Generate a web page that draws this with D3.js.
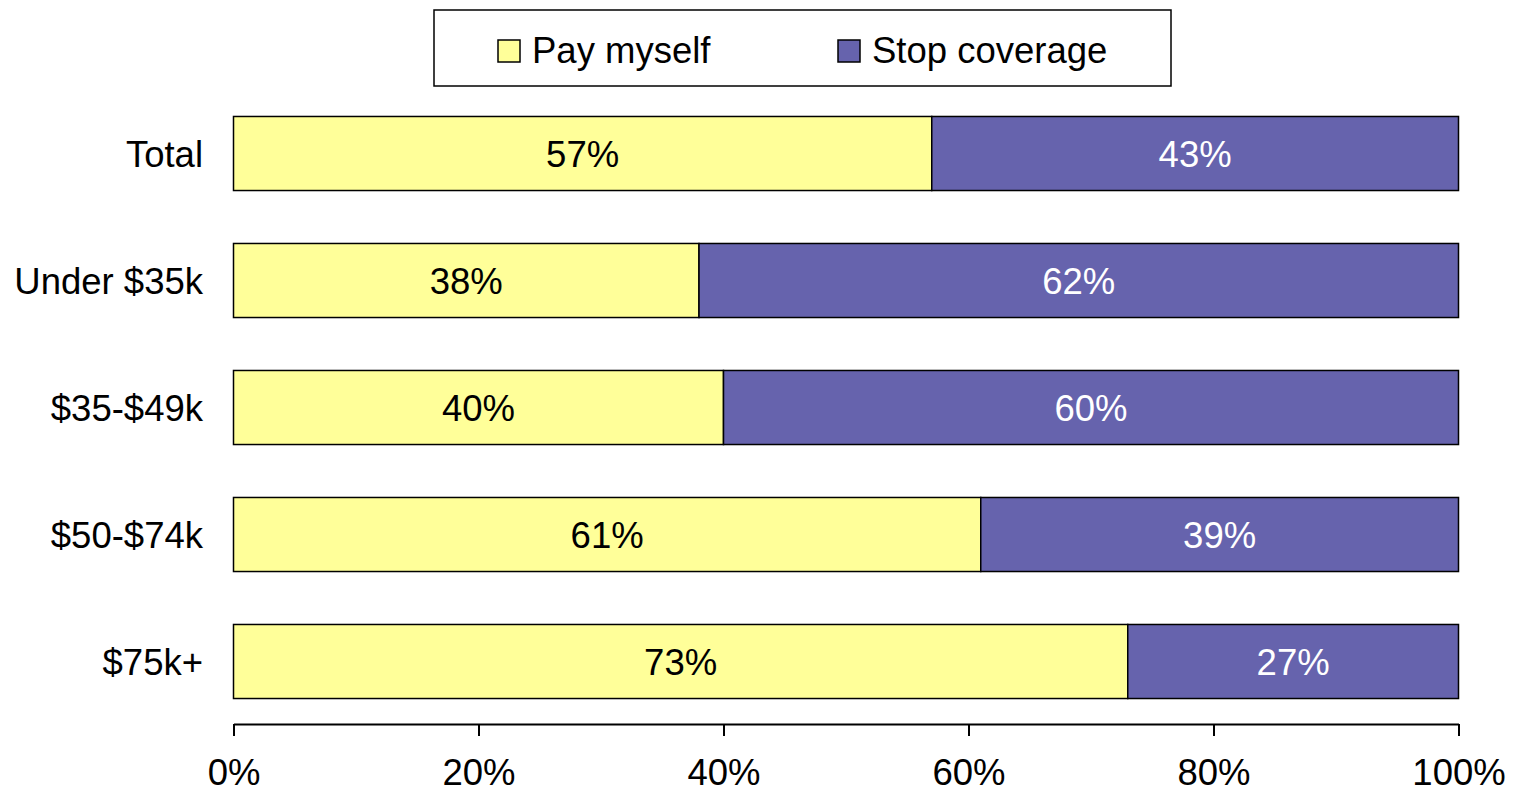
<!DOCTYPE html>
<html>
<head>
<meta charset="utf-8">
<script src="https://cdn.jsdelivr.net/npm/d3@7"></script>
<style>
  body { margin: 0; background: #fff; }
  text { font-family: Arial, "Liberation Sans", sans-serif; }
</style>
</head>
<body>
<svg id="chart" width="1524" height="794"></svg>
<script>
const categories = ["Total", "Under $35k", "$35-$49k", "$50-$74k", "$75k+"];
const seriesNames = ["Pay myself", "Stop coverage"];
const payMyself = [57, 38, 40, 61, 73];
const stopCoverage = [43, 62, 60, 39, 27];
const tickValues = [0, 20, 40, 60, 80, 100];

const colours = ["#ffff99", "#6663ad"];
const labelColours = ["#000", "#fff"];

const svg = d3.select("#chart");
const fontSize = 36.5;

const data = categories.map((c, i) => ({cat: c, "Pay myself": payMyself[i], "Stop coverage": stopCoverage[i]}));
const stacked = d3.stack().keys(seriesNames)(data);

const x = d3.scaleLinear().domain([0, 100]).range([233.5, 1458.5]);
const y = d3.scaleBand().domain(categories).range([90, 725]).paddingInner(0.417).paddingOuter(0.2085);

// bars
const layers = svg.selectAll("g.layer")
    .data(stacked)
    .enter()
    .append("g")
    .attr("class", "layer");

layers.selectAll("rect")
    .data((d) => d)
    .enter()
    .append("rect")
    .attr("x", (d) => x(d[0]))
    .attr("y", (d) => y(d.data.cat))
    .attr("width", (d) => x(d[1]) - x(d[0]))
    .attr("height", y.bandwidth())
    .attr("fill", function() { return colours[d3.select(this.parentNode).datum().index]; })
    .attr("stroke", "#000")
    .attr("stroke-width", 1.5);

// value labels
layers.each(function(layer) {
    d3.select(this).selectAll("text")
        .data(layer)
        .enter()
        .append("text")
        .attr("x", (d) => (x(d[0]) + x(d[1])) / 2)
        .attr("y", (d) => y(d.data.cat) + y.bandwidth() / 2)
        .attr("dy", "0.36em")
        .attr("text-anchor", "middle")
        .attr("font-size", fontSize)
        .attr("fill", labelColours[layer.index])
        .text((d) => (d[1] - d[0]) + "%");
});

// category labels
svg.append("g")
    .selectAll("text")
    .data(categories)
    .enter()
    .append("text")
    .attr("x", 203)
    .attr("y", (d) => y(d) + y.bandwidth() / 2)
    .attr("dy", "0.36em")
    .attr("text-anchor", "end")
    .attr("font-size", fontSize)
    .attr("fill", "#000")
    .text((d) => d);

// x axis
const xAxis = svg.append("g")
    .attr("transform", "translate(0,724)")
    .call(d3.axisBottom(x).tickValues(tickValues).tickSize(12).tickSizeOuter(0).tickPadding(23).tickFormat((d) => d + "%"));
xAxis.select(".domain").attr("stroke", "#000").attr("stroke-width", 2);
xAxis.selectAll(".tick line").attr("stroke", "#000").attr("stroke-width", 2);
xAxis.selectAll(".tick text")
    .attr("font-size", fontSize)
    .attr("font-family", "Arial, 'Liberation Sans', sans-serif")
    .attr("fill", "#000");

// legend
const legend = svg.append("g");
legend.append("rect")
    .attr("x", 434)
    .attr("y", 10)
    .attr("width", 737)
    .attr("height", 76)
    .attr("fill", "#fff")
    .attr("stroke", "#000")
    .attr("stroke-width", 1.5);

const legendX = [498, 838];
seriesNames.forEach((name, i) => {
    legend.append("rect")
        .attr("x", legendX[i])
        .attr("y", 40)
        .attr("width", 22)
        .attr("height", 22)
        .attr("fill", colours[i])
        .attr("stroke", "#000")
        .attr("stroke-width", 1.5);
    legend.append("text")
        .attr("x", legendX[i] + 34)
        .attr("y", 50)
        .attr("dy", "0.36em")
        .attr("font-size", fontSize)
        .attr("fill", "#000")
        .text(name);
});
</script>
</body>
</html>
